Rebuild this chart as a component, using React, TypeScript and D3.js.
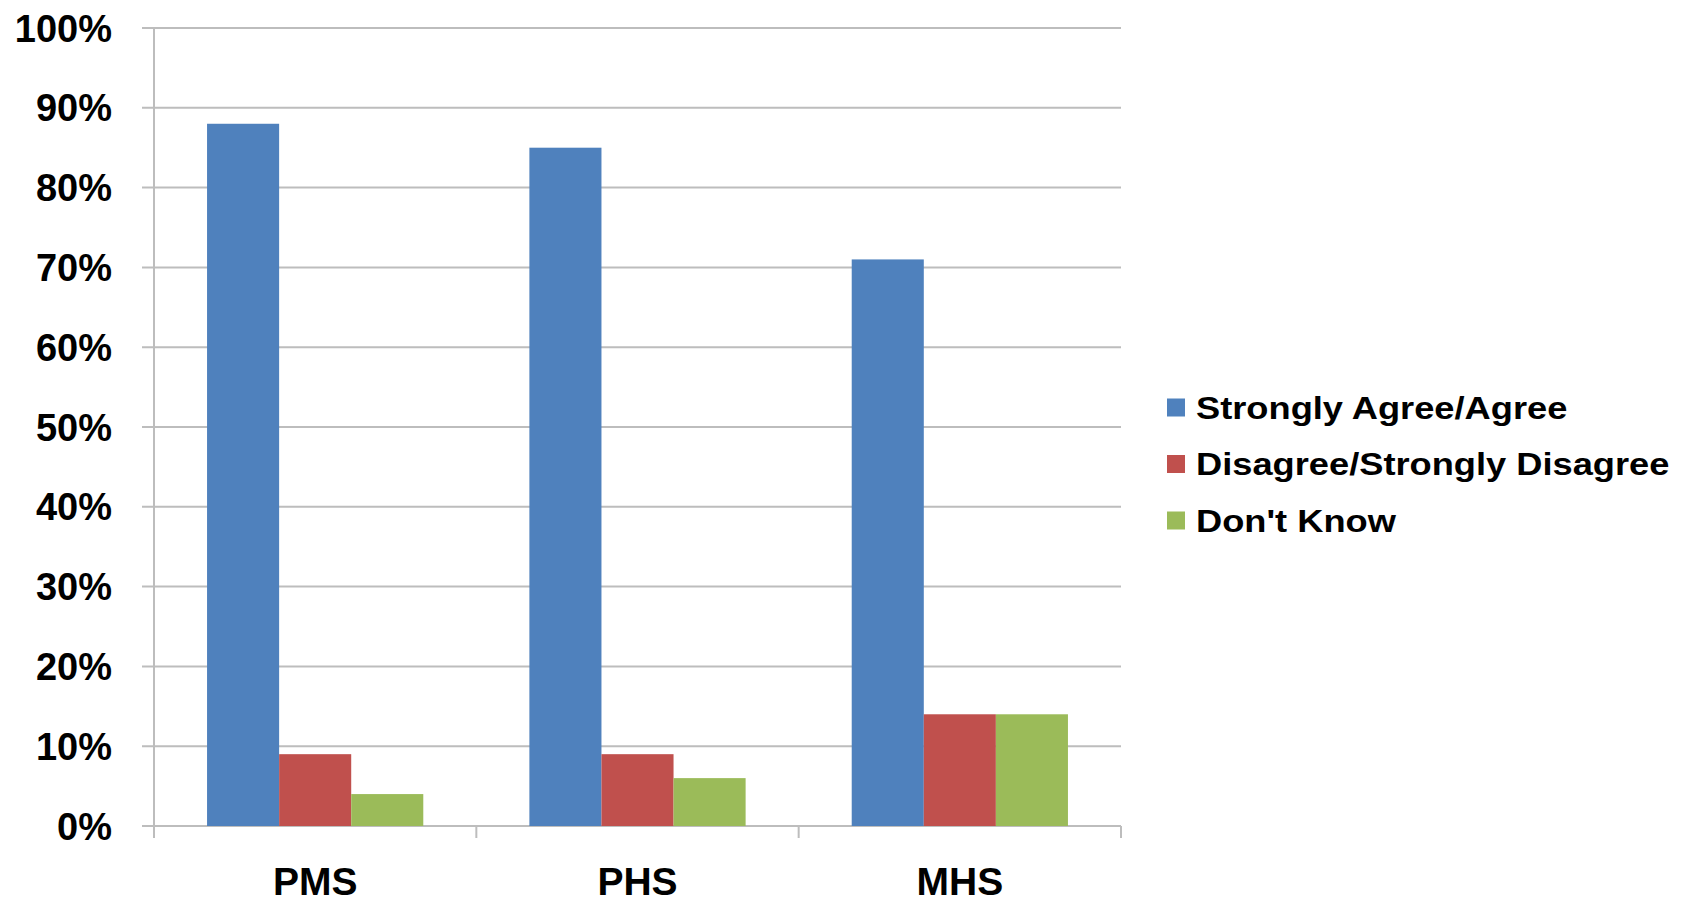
import React from "react";
import * as d3 from "d3";

const categories = ["PMS", "PHS", "MHS"];
const seriesNames = ["Strongly Agree/Agree", "Disagree/Strongly Disagree", "Don't Know"];
const agreeValues = [88, 85, 71];
const disagreeValues = [9, 9, 14];
const dontKnowValues = [4, 6, 14];
const yTicks = [0, 10, 20, 30, 40, 50, 60, 70, 80, 90, 100];
const colors = ["#4F81BD", "#C0504D", "#9BBB59"];

export default function App() {
  const W = 1696, H = 905;
  const left = 154, right = 1121, top = 28, bottom = 826;
  const x = d3.scaleBand().domain(categories).range([left, right]).paddingInner(0).paddingOuter(0);
  const inner = d3.scaleBand().domain(seriesNames).range([0, x.bandwidth()]).paddingInner(0).paddingOuter(0.736);
  const y = d3.scaleLinear().domain([0, 100]).range([bottom, top]);
  const series = [agreeValues, disagreeValues, dontKnowValues];
  const font = "'Liberation Sans', Arial, sans-serif";
  const boundaries = [0, 1, 2, 3].map((i) => left + i * x.step());

  return (
    <svg width={W} height={H} style={{ position: "absolute", left: 0, top: 0, background: "#fff" }} fontFamily={font}>
      {yTicks.map((t) => (
        <g key={t}>
          <line x1={142} x2={right} y1={y(t)} y2={y(t)} stroke="#BDBDBD" strokeWidth={2} />
          <text x={112} y={y(t)} dy="0.36em" textAnchor="end" fontWeight="bold" fontSize={38} fill="#000">
            {t}%
          </text>
        </g>
      ))}
      <line x1={left} x2={left} y1={top} y2={bottom + 12} stroke="#BDBDBD" strokeWidth={2} />
      {boundaries.map((b, i) => (
        <line key={i} x1={b} x2={b} y1={bottom} y2={bottom + 12} stroke="#BDBDBD" strokeWidth={2} />
      ))}
      {categories.map((c, ci) => (
        <g key={c}>
          {series.map((vals, si) => (
            <rect
              key={si}
              x={(x(c) as number) + (inner(seriesNames[si]) as number)}
              y={y(vals[ci])}
              width={inner.bandwidth()}
              height={bottom - y(vals[ci])}
              fill={colors[si]}
            />
          ))}
          <text x={(x(c) as number) + x.bandwidth() / 2} y={895} textAnchor="middle" fontWeight="bold" fontSize={39} fill="#000">
            {c}
          </text>
        </g>
      ))}
      {seriesNames.map((s, i) => (
        <g key={s} transform={`translate(1167, ${407.5 + i * 56.5})`}>
          <rect x={0} y={-9} width={18} height={18} fill={colors[i]} />
          <text transform="translate(29,0) scale(1.17,1)" x={0} y={0} dy="0.36em" fontWeight="bold" fontSize={31} fill="#000">
            {s}
          </text>
        </g>
      ))}
    </svg>
  );
}
